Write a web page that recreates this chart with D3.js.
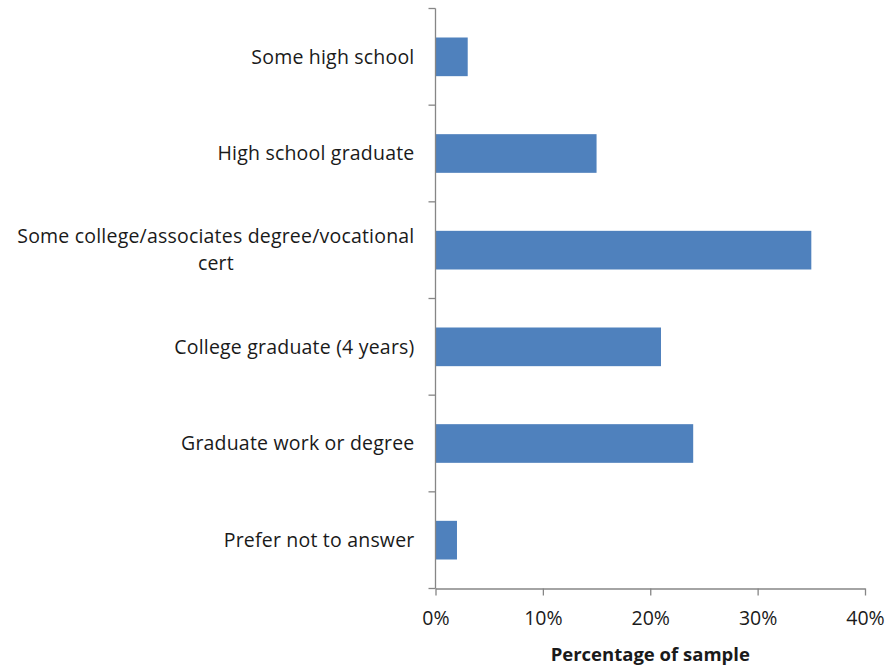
<!DOCTYPE html>
<html>
<head>
<meta charset="utf-8">
<script src="https://cdn.jsdelivr.net/npm/d3@7"></script>
<style>
  html, body { margin: 0; padding: 0; background: #fff; }
  svg { display: block; }
  text { font-family: "Open Sans", sans-serif; fill: #1a1a1a; }
</style>
</head>
<body>
<svg id="chart" width="889" height="666"></svg>
<script>
// Education level of respondents
const categories = [
  ["Some high school"],
  ["High school graduate"],
  ["Some college/associates degree/vocational", "cert"],
  ["College graduate (4 years)"],
  ["Graduate work or degree"],
  ["Prefer not to answer"]
];
const values = [3, 15, 35, 21, 24, 2];
const xTicks = [0, 10, 20, 30, 40];
const xTitle = "Percentage of sample";

const svg = d3.select("#chart");
const margin = { left: 435.5, right: 24, top: 8.5, bottom: 77.5 };
const W = 889, H = 666;
const axisColor = "#868686";
const barColor = "#4F81BD";
const labelSize = 19.5;

const x = d3.scaleLinear().domain([0, 40]).range([margin.left, W - margin.right]);
const y = d3.scaleBand().domain(d3.range(categories.length))
  .range([margin.top, H - margin.bottom]).paddingInner(0.6).paddingOuter(0.3);

// Bars
svg.append("g").selectAll("rect").data(values).join("rect")
  .attr("x", x(0))
  .attr("y", (d, i) => y(i))
  .attr("width", d => x(d) - x(0))
  .attr("height", y.bandwidth())
  .attr("fill", barColor);

// Category axis: line with tick marks at band boundaries
const yTop = margin.top, yBot = H - margin.bottom;
const step = (yBot - yTop) / categories.length;
const gy = svg.append("g");
gy.append("line").attr("x1", x(0)).attr("x2", x(0)).attr("y1", yTop).attr("y2", yBot)
  .attr("stroke", axisColor).attr("stroke-width", 1.3);
gy.selectAll("line.tk").data(d3.range(categories.length + 1)).join("line")
  .attr("class", "tk")
  .attr("x1", x(0) - 7).attr("x2", x(0))
  .attr("y1", i => yTop + i * step).attr("y2", i => yTop + i * step)
  .attr("stroke", axisColor).attr("stroke-width", 1.3);

// Category labels (wrapped lines centred on each other, right aligned as a block)
const lineH = 27;
categories.forEach((lines, i) => {
  const cy = y(i) + y.bandwidth() / 2;
  const t = svg.append("text").attr("font-size", labelSize).attr("letter-spacing", 0.2);
  const n = lines.length;
  lines.forEach((ln, k) => {
    t.append("tspan").attr("y", cy + (k - (n - 1) / 2) * lineH).attr("dy", "0.35em").text(ln);
  });
  const widths = [];
  t.selectAll("tspan").each(function () { widths.push(this.getComputedTextLength()); });
  const wMax = d3.max(widths);
  const right = x(0) - 21;
  t.attr("text-anchor", "middle");
  t.selectAll("tspan").attr("x", right - wMax / 2);
});

// Value axis
const gx = svg.append("g").attr("transform", `translate(0,${yBot})`)
  .call(d3.axisBottom(x).tickValues(xTicks).tickFormat(d => d + "%").tickSize(7).tickSizeOuter(0));
gx.select(".domain").attr("stroke", axisColor).attr("stroke-width", 1.3);
gx.selectAll(".tick line").attr("stroke", axisColor).attr("stroke-width", 1.3);
gx.selectAll(".tick text").attr("font-size", labelSize).attr("dy", "1.35em")
  .style("font-family", "'Open Sans', sans-serif").attr("fill", "#1a1a1a");

svg.append("text").attr("x", x(20)).attr("y", 661)
  .attr("text-anchor", "middle").attr("font-size", 18.5).attr("font-weight", "bold")
  .text(xTitle);
</script>
</body>
</html>
